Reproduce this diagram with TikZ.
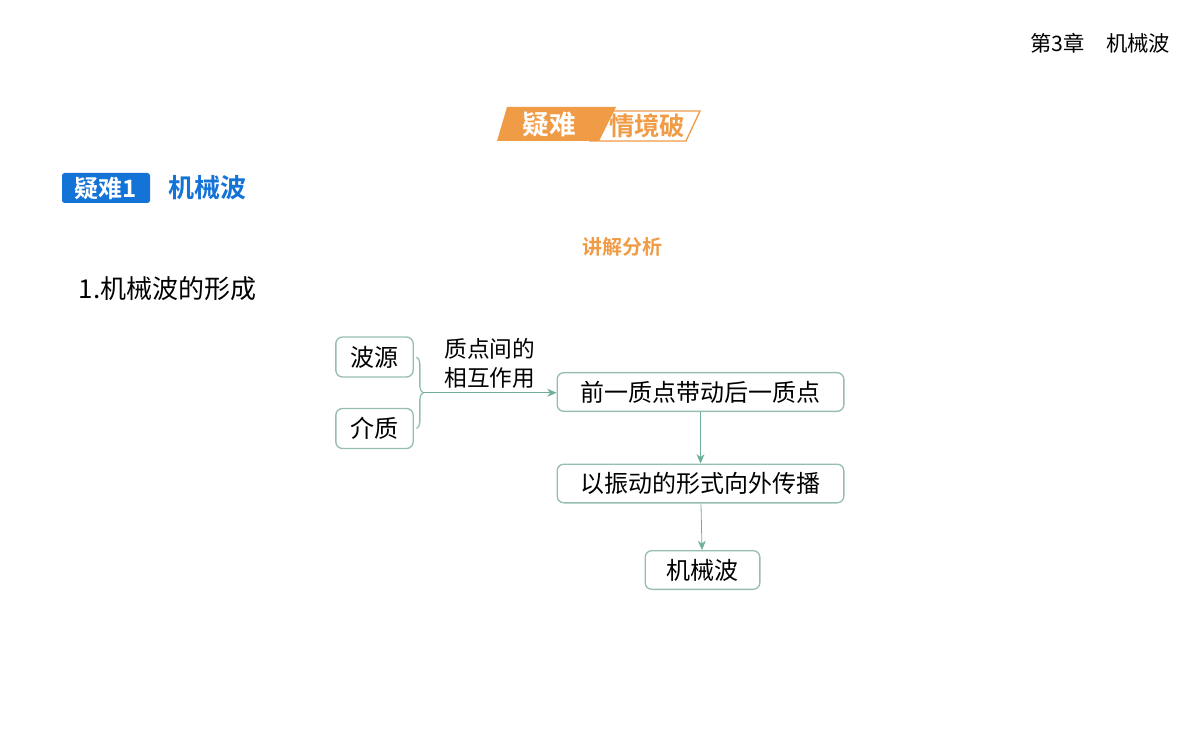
\documentclass[tikz,border=0pt]{standalone}
\usepackage{fontspec}
\setmainfont{Noto Sans CJK SC}
\newfontfamily\cjkbold{Noto Sans CJK SC Bold}
\usetikzlibrary{positioning,arrows.meta,decorations.pathreplacing,calc}
\definecolor{boxline}{RGB}{150,190,175}
\definecolor{arrowc}{RGB}{110,175,155}
\definecolor{tagorange}{RGB}{240,155,70}
\definecolor{tagblue}{RGB}{20,115,215}
\begin{document}
\begin{tikzpicture}[x=0.75pt, y=-0.75pt, semithick,
  box/.style = {draw=boxline, rounded corners=5pt, line width=1pt, inner sep=0pt, font=\fontsize{18}{20}\selectfont},
  flow/.style = {draw=arrowc, -{Stealth[length=7pt, width=6pt]}}]
\useasboundingbox (0,0) rectangle (1200,745);

% header
\node[anchor=east, font=\fontsize{16}{18}\selectfont] (chap) at (1175,43) {第3章\quad 机械波};
\draw[tagorange, fill=white, line width=1pt] (604,111) -- (700,111) -- (686,141) -- (590,141) -- cycle;
\fill[tagorange] (507,107) -- (616,107) -- (599,141) -- (497,141) -- cycle;
\node[font=\cjkbold\fontsize{20}{22}\selectfont, text=white] (t1) at (549,124) {疑难};
\node[font=\cjkbold\fontsize{19}{22}\selectfont, text=tagorange] (t2) at (647,126) {情境破};
\fill[tagblue, rounded corners=2pt] (62,173) rectangle (150,203);
\node[font=\cjkbold\fontsize{18}{20}\selectfont, text=white] (tag) at (106,188) {疑难1};
\node[anchor=west, font=\cjkbold\fontsize{19.5}{22}\selectfont, text=tagblue] (title) at (164,188) {机械波};
\node[font=\cjkbold\fontsize{15}{16}\selectfont, text=tagorange] (sub) at (622,247) {讲解分析};
\node[anchor=west, font=\fontsize{19.5}{22}\selectfont] (sec) at (74,289) {1.机械波的形成};

% diagram
\node[box, minimum width=58pt, minimum height=30pt] (src) at (374.5,357) {波源};
\node[box, minimum width=58pt, minimum height=30pt] (med) at (374.5,428.5) {介质};
\node[box, minimum width=215pt, minimum height=29pt] (push) at (700.5,392) {前一质点带动后一质点};
\node[box, minimum width=215pt, minimum height=29pt] (spread) at (700.5,483.5) {以振动的形式向外传播};
\node[box, minimum width=86pt, minimum height=29pt] (wave) at (702.5,570) {机械波};

\draw[boxline, line width=1pt, decorate, decoration={brace, amplitude=5pt}] ([xshift=2pt]src.east) -- ([xshift=2pt]med.east);
\coordinate (tip) at ([xshift=7pt]$(src.east)!0.5!(med.east)$);
\draw[flow] (tip) -- (tip -| push.west) node[midway, above, align=left, font=\fontsize{17}{22}\selectfont, inner sep=3pt] {质点间的\\相互作用};
\draw[flow] (push) -- (spread);
\draw[flow] (spread) -- (wave);
\end{tikzpicture}
\end{document}
